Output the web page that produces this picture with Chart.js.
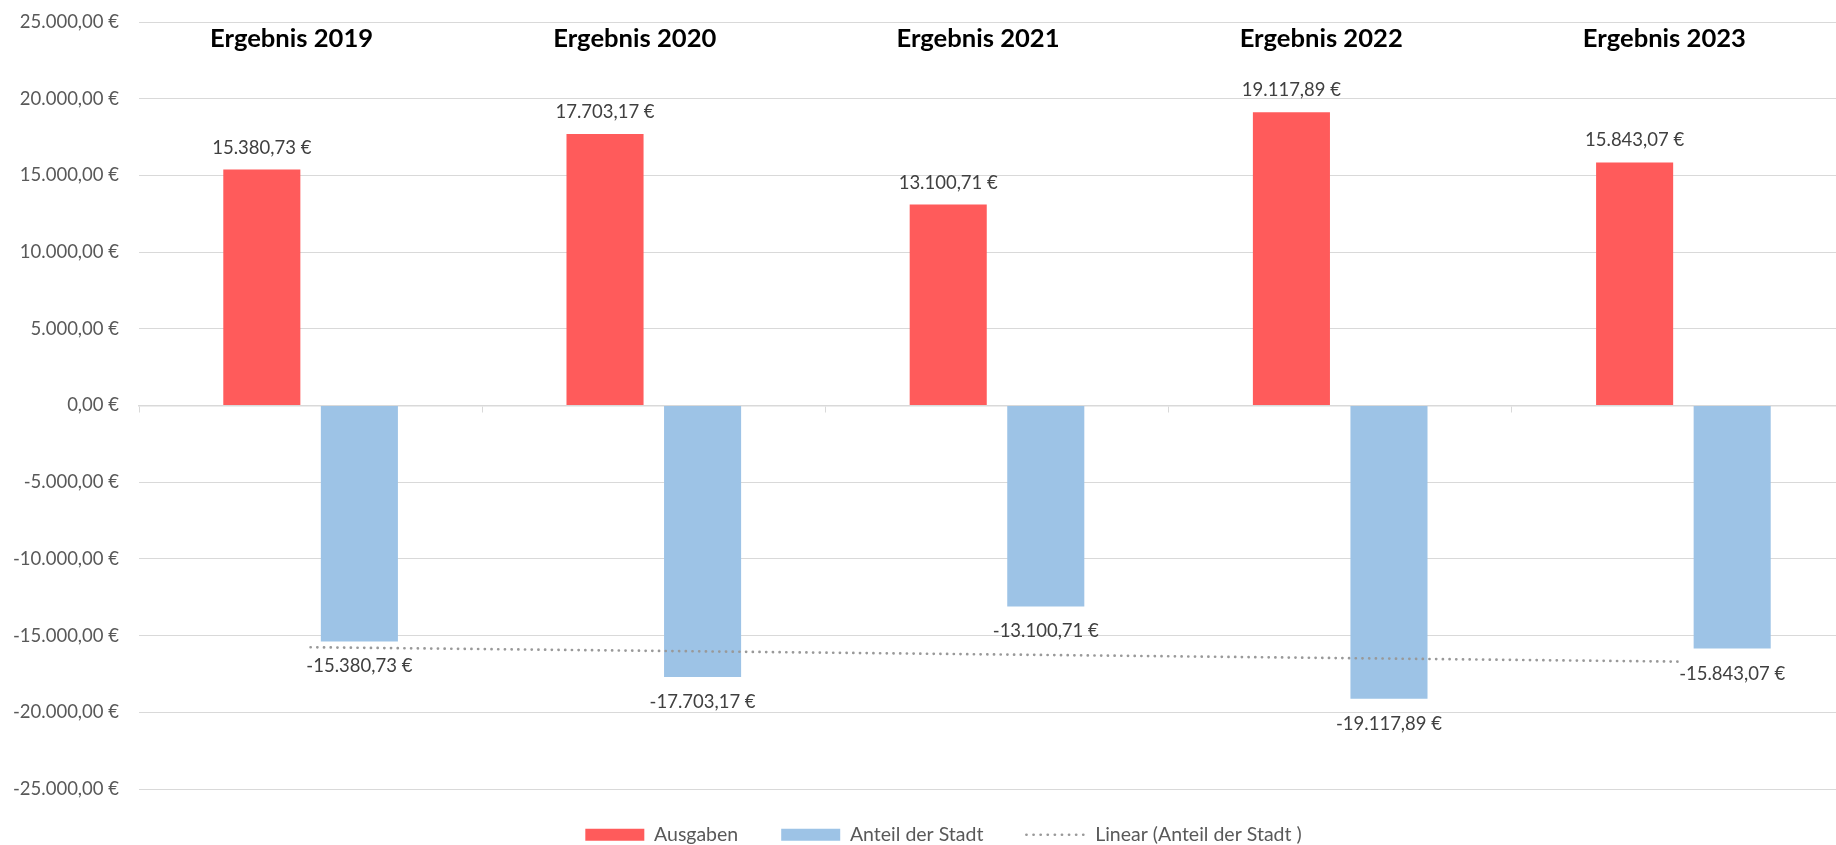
<!DOCTYPE html>
<html lang="de">
<head>
<meta charset="utf-8">
<title>Ausgaben und Anteil der Stadt</title>
<script src="https://cdn.jsdelivr.net/npm/chart.js@4.4.1/dist/chart.umd.min.js"></script>
<style>
  html, body { margin: 0; padding: 0; background: #fff; overflow: hidden; }
  #wrap { width: 1887px; height: 845px; }
</style>
</head>
<body>
<div id="wrap"><canvas id="chartErgebnis"></canvas></div>
<script>
// Daten aus dem Diagramm
const kategorien = ["Ergebnis 2019", "Ergebnis 2020", "Ergebnis 2021", "Ergebnis 2022", "Ergebnis 2023"];
const ausgaben = [15380.73, 17703.17, 13100.71, 19117.89, 15843.07];
const anteilStadt = [-15380.73, -17703.17, -13100.71, -19117.89, -15843.07];
// Trendlinie (Linear): Anfangs- und Endwert
const trendAnteil = [-15760, null, null, null, -16700];
const yMin = -25000;
const yMax = 25000;
const yStep = 5000;

const schrift = "Lato, 'Open Sans', sans-serif";

// Zahl im deutschen Format mit Euro-Zeichen
function euro(wert) {
    const teile = Math.abs(wert).toFixed(2).split(".");
    const ganz = teile[0].replace(/\B(?=(\d{3})+(?!\d))/g, ".");
    return (wert < 0 ? "-" : "") + ganz + "," + teile[1] + " €";
}

// Kategorienamen oben im Diagramm
const kategorieTitel = {
    id: "kategorieTitel",
    afterDraw(chart) {
        const { ctx, scales: { x, y } } = chart;
        ctx.save();
        ctx.font = "bold 25.6px " + schrift;
        ctx.fillStyle = "#000000";
        ctx.textAlign = "center";
        ctx.textBaseline = "middle";
        kategorien.forEach((k, i) => {
            ctx.fillText(k, x.getPixelForValue(i) - 19, y.top + 17);
        });
        ctx.restore();
    }
};

// Wertebeschriftung an den Balken
const werteBeschriftung = {
    id: "werteBeschriftung",
    afterDatasetsDraw(chart) {
        const ctx = chart.ctx;
        ctx.save();
        ctx.font = "18.5px " + schrift;
        ctx.fillStyle = "#404040";
        ctx.textAlign = "center";
        ctx.textBaseline = "middle";
        [0, 1].forEach(di => {
            const werte = chart.data.datasets[di].data;
            chart.getDatasetMeta(di).data.forEach((balken, i) => {
                const y = werte[i] >= 0 ? balken.y - 22 : balken.y + 25;
                ctx.fillText(euro(werte[i]), balken.x, y);
            });
        });
        ctx.restore();
    }
};

// Legende: feste Höhe, über die ganze Breite zentriert, etwas nach oben gerückt
const legendeLage = {
    id: "legendeLage",
    beforeInit(chart) {
        const fit = chart.legend.fit;
        chart.legend.fit = function () {
            fit.bind(chart.legend)();
            this.height = 56;
        };
    },
    afterLayout(chart) {
        chart.legend.left = 0;
        chart.legend.right = chart.width;
        chart.legend.top -= 7;
    }
};

const legendenForm = ["rect", "rect", "line"];

new Chart(document.getElementById("chartErgebnis"), {
    type: "bar",
    data: {
        labels: kategorien,
        datasets: [
            {
                label: "Ausgaben",
                data: ausgaben,
                backgroundColor: "#FF5B5B",
                borderWidth: 0,
                order: 1
            },
            {
                label: "Anteil der Stadt",
                data: anteilStadt,
                backgroundColor: "#9DC3E6",
                borderWidth: 0,
                order: 2
            },
            {
                type: "line",
                label: "Linear (Anteil der Stadt )",
                data: trendAnteil,
                spanGaps: true,
                borderColor: "#999999",
                backgroundColor: "#999999",
                borderWidth: 2.7,
                borderDash: [0.1, 6.6],
                borderCapStyle: "round",
                pointRadius: 0,
                order: 0
            }
        ]
    },
    options: {
        responsive: true,
        maintainAspectRatio: false,
        animation: false,
        datasets: {
            bar: { categoryPercentage: 0.5685, barPercentage: 0.79 }
        },
        layout: {
            padding: { top: 22, right: 32, left: 0, bottom: 0 }
        },
        scales: {
            x: {
                position: { y: 0 },
                offset: true,
                grid: {
                    offset: true,
                    drawOnChartArea: false,
                    drawTicks: true,
                    tickLength: 6,
                    color: "#D9D9D9"
                },
                border: { color: "#D9D9D9", width: 1.5 },
                ticks: { display: false }
            },
            y: {
                min: yMin,
                max: yMax,
                ticks: {
                    stepSize: yStep,
                    padding: 20,
                    color: "#595959",
                    font: { family: schrift, size: 18.5 },
                    callback: v => euro(v)
                },
                grid: { color: "#D9D9D9", drawTicks: false },
                border: { display: false },
                afterFit(scale) {
                    scale.width = 139;
                    scale.paddingTop = 0;
                    scale.paddingBottom = 0;
                }
            }
        },
        plugins: {
            tooltip: { enabled: false },
            legend: {
                position: "bottom",
                labels: {
                    usePointStyle: true,
                    pointStyleWidth: 59,
                    boxHeight: 12,
                    padding: 43,
                    color: "#595959",
                    font: { family: schrift, size: 19.5 },
                    sort: (a, b) => a.datasetIndex - b.datasetIndex,
                    generateLabels(chart) {
                        const items = Chart.defaults.plugins.legend.labels.generateLabels(chart);
                        items.forEach(item => {
                            item.pointStyle = legendenForm[item.datasetIndex];
                            if (item.pointStyle === "line") {
                                const ds = chart.data.datasets[item.datasetIndex];
                                item.strokeStyle = ds.borderColor;
                                item.lineWidth = ds.borderWidth;
                                item.lineDash = [0.1, 7];
                                item.lineCap = "round";
                            }
                        });
                        return items;
                    }
                }
            }
        }
    },
    plugins: [kategorieTitel, werteBeschriftung, legendeLage]
});
</script>
</body>
</html>
